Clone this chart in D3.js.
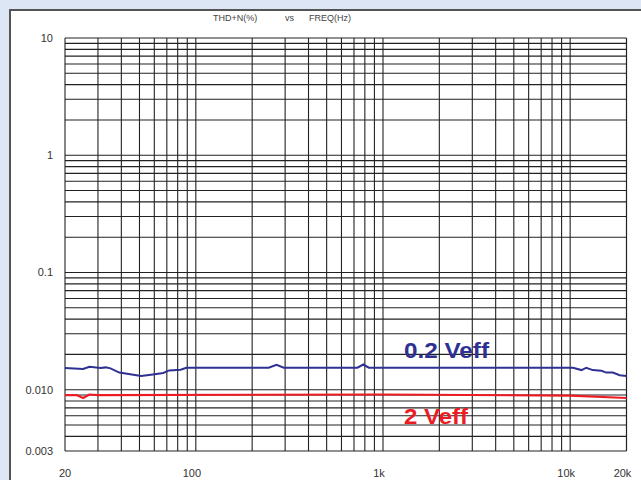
<html>
<head>
<script src="https://d3js.org/d3.v7.min.js"></script>
<style>
body { margin: 0; background: #dce6f4; }
svg text { font-family: "Liberation Sans", Arial, sans-serif; }
</style>
</head>
<body>
<script>
// frequency (Hz) and THD+N (%)
var freqBlue = [20, 25, 27, 31, 33, 35, 39, 51, 59, 67, 72, 83, 89, 245, 270, 295, 730, 785, 840, 10350, 11500, 12200, 13200, 14700, 15600, 16900, 18400, 20000];
var thdBlue  = [0.0153, 0.0150, 0.0157, 0.0153, 0.0155, 0.0152, 0.0140, 0.0131, 0.0135, 0.0139, 0.0146, 0.0148, 0.0154, 0.0154, 0.0163, 0.0154, 0.0154, 0.0164, 0.0154, 0.0154, 0.0147, 0.0154, 0.0147, 0.0145, 0.0140, 0.0140, 0.0133, 0.0131];

var freqRed = [20, 23, 25, 27, 30, 1000, 10000, 20000];
var thdRed  = [0.0090, 0.0090, 0.0085, 0.0091, 0.0090, 0.0091, 0.0089, 0.0085];

var xTickVals = [20, 100, 1000, 10000, 20000];
var xTickText = ["20", "100", "1k", "10k", "20k"];
var yTickVals = [10, 1, 0.1, 0.01, 0.003];
var yTickText = ["10", "1", "0.1", "0.010", "0.003"];

var seriesNames = ["0.2 Veff", "2 Veff"];

var W = 641, H = 480;
var svg = d3.select("body").append("svg")
	.attr("width", W)
	.attr("height", H)
	.style("display", "block");

// white panel
svg.append("rect").attr("x", 10).attr("y", 10).attr("width", W).attr("height", H)
	.attr("fill", "#fff").attr("stroke", "#555").attr("stroke-width", 2);

var x = d3.scaleLog().domain([20, 20000]).range([65, 626.5]);
var y = d3.scaleLog().domain([0.003, 10]).range([451, 38]);

// grid lines
var xGrid = [];
[10, 100, 1000, 10000].forEach(function(dec) {
	for (var k = 1; k <= 9; k++) {
		var v = dec * k;
		if (v >= 20 && v <= 20000) xGrid.push(v);
	}
});
xGrid.push(20000);
var yGrid = [0.003];
[0.001, 0.01, 0.1, 1].forEach(function(dec) {
	for (var k = 1; k <= 9; k++) {
		var v = dec * k;
		if (v > 0.003 && v < 10) yGrid.push(v);
	}
});
yGrid.push(10);

var g = svg.append("g");
g.selectAll(".hx").data(yGrid).enter().append("line")
	.attr("x1", x(20)).attr("x2", x(20000))
	.attr("y1", function(d) { return y(d); }).attr("y2", function(d) { return y(d); })
	.attr("stroke", "#222").attr("stroke-width", 1.1);
g.selectAll(".vx").data(xGrid).enter().append("line")
	.attr("y1", y(10)).attr("y2", y(0.003))
	.attr("x1", function(d) { return x(d); }).attr("x2", function(d) { return x(d); })
	.attr("stroke", "#222").attr("stroke-width", 1.1);

// curves
var line = d3.line()
	.x(function(d) { return x(d[0]); })
	.y(function(d) { return y(d[1]); })
	.curve(d3.curveLinear);

svg.append("path")
	.datum(d3.zip(freqRed, thdRed))
	.attr("d", line)
	.attr("fill", "none").attr("stroke", "#ed1c24").attr("stroke-width", 2.2);

svg.append("path")
	.datum(d3.zip(freqBlue, thdBlue))
	.attr("d", line)
	.attr("fill", "none").attr("stroke", "#2e3192").attr("stroke-width", 2);

// series labels
svg.append("text").text(seriesNames[0])
	.attr("x", 404).attr("y", 357.5)
	.attr("font-size", 22).attr("font-weight", "bold")
	.attr("textLength", 85).attr("lengthAdjust", "spacingAndGlyphs")
	.attr("fill", "#2e3192");
svg.append("text").text(seriesNames[1])
	.attr("x", 404).attr("y", 423.5)
	.attr("font-size", 22).attr("font-weight", "bold")
	.attr("textLength", 64).attr("lengthAdjust", "spacingAndGlyphs")
	.attr("fill", "#ed1c24");

// tick labels
svg.selectAll(".xl").data(xTickVals).enter().append("text")
	.attr("x", function(d) { return x(d) - (d === 20 ? 0 : 4); })
	.attr("y", 477)
	.attr("text-anchor", "middle")
	.attr("font-size", 11).attr("fill", "#333")
	.text(function(d, i) { return xTickText[i]; });

svg.selectAll(".yl").data(yTickVals).enter().append("text")
	.attr("x", 53)
	.attr("y", function(d) { return y(d) + 4; })
	.attr("text-anchor", "end")
	.attr("font-size", 11).attr("fill", "#333")
	.text(function(d, i) { return yTickText[i]; });

// title
var title = svg.append("g").attr("font-size", 9).attr("fill", "#444");
title.append("text").attr("x", 213).attr("y", 21).attr("fill", "#444").attr("font-size", 9).text("THD+N(%)");
title.append("text").attr("x", 285).attr("y", 21).attr("fill", "#444").attr("font-size", 9).text("vs");
title.append("text").attr("x", 309).attr("y", 21).attr("fill", "#444").attr("font-size", 9).text("FREQ(Hz)");
</script>
</body>
</html>
